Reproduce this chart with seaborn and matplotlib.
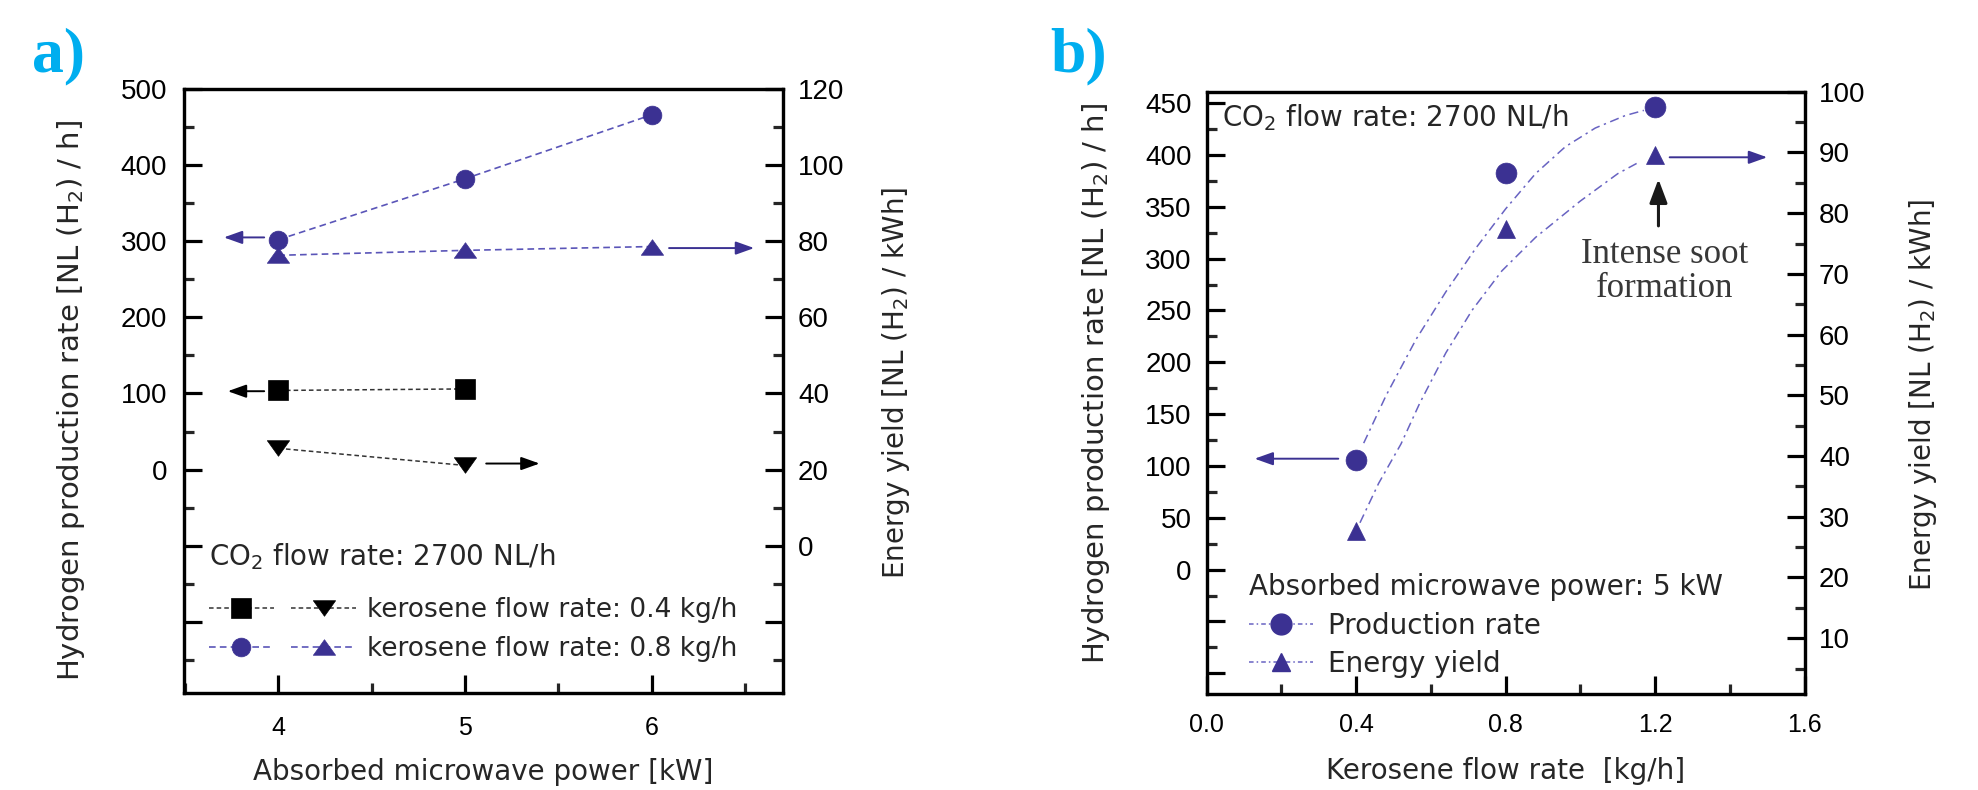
import numpy as np
import pandas as pd
import matplotlib
matplotlib.use("Agg")
import matplotlib.pyplot as plt
import seaborn as sns
from matplotlib.ticker import MultipleLocator, FuncFormatter
from matplotlib.lines import Line2D
from matplotlib.legend_handler import HandlerTuple
from matplotlib.path import Path

# ---------------- data: panel a ----------------
power_kw = [4, 5, 6]
rate_08 = [302, 382, 466]          # NL(H2)/h, kerosene 0.8 kg/h (left axis)
yield_08 = [76.3, 77.6, 78.6]      # NL(H2)/kWh, kerosene 0.8 kg/h (right axis)
power_kw_04 = [4, 5]
rate_04 = [104, 106]               # kerosene 0.4 kg/h (left axis)
yield_04 = [25.6, 21.1]            # kerosene 0.4 kg/h (right axis)

# ---------------- data: panel b ----------------
kero_flow = [0.4, 0.8, 1.2]
rate_b = [106, 383, 446]
yield_b = [27.7, 77.4, 89.6]
# trend curves
fit_rate_x = [0.42, 0.48, 0.56, 0.64, 0.72, 0.80, 0.88, 0.96, 1.04, 1.12, 1.17]
fit_rate_y = [122, 168, 222, 268, 310, 348, 382, 408, 426, 438, 443]
fit_yield_x = [0.41, 0.46, 0.52, 0.57, 0.64, 0.71, 0.79, 0.88, 1.00, 1.10, 1.16]
fit_yield_y = [29.0, 35.5, 42.0, 48.7, 57.0, 64.0, 70.5, 76.0, 82.0, 86.5, 88.5]

# ---------------- style ----------------
sns.set_style("ticks")
plt.rcParams["font.family"] = ["Liberation Sans", "DejaVu Sans"]
plt.rcParams["mathtext.default"] = "regular"

MARK = "#3b3192"
LINE_BLUE = "#5a55b8"
LINE_BLACK = "#333333"
CURVE = "#6863c2"
TXT = {"family": "DejaVu Sans", "size": 20}
LEG_A = {"family": "DejaVu Sans", "size": 19}
BIG = {"family": "DejaVu Sans", "size": 21}
TRI_UP = Path(np.array([[-1.0, -0.7], [1.0, -0.7], [0.0, 0.7], [-1.0, -0.7]]))
TRI_DN = Path(np.array([[-1.0, 0.7], [1.0, 0.7], [0.0, -0.7], [-1.0, 0.7]]))
SPW = 2.3

fig = plt.figure(figsize=(19.78, 7.90), dpi=100)
ax_a = fig.add_axes([0.0929, 0.1222, 0.3028, 0.7652])
ax_a2 = ax_a.twinx()
ax_b = fig.add_axes([0.6101, 0.1215, 0.3022, 0.7624])
ax_b2 = ax_b.twinx()


def last_line(ax):
    return ax.get_lines()[-1]


# ---------------- panel a plots ----------------
common = dict(estimator=None, sort=False, markeredgewidth=0.5)
sns.lineplot(x=power_kw_04, y=rate_04, ax=ax_a, color=LINE_BLACK, lw=1.1,
             linestyle=(0, (3, 2)), marker="s", markersize=14,
             markerfacecolor="black", markeredgecolor="black", **common)
l_sq = last_line(ax_a)
sns.lineplot(x=power_kw, y=rate_08, ax=ax_a, color=LINE_BLUE, lw=1.2,
             linestyle=(0, (4, 2.5)), marker="o", markersize=13.5,
             markerfacecolor=MARK, markeredgecolor=MARK, **common)
l_circ = last_line(ax_a)
sns.lineplot(x=power_kw_04, y=yield_04, ax=ax_a2, color=LINE_BLACK, lw=1.1,
             linestyle=(0, (3, 2)), marker=TRI_DN, markersize=16,
             markerfacecolor="black", markeredgecolor="black", **common)
l_dtri = last_line(ax_a2)
sns.lineplot(x=power_kw, y=yield_08, ax=ax_a2, color=LINE_BLUE, lw=1.2,
             linestyle=(0, (4, 2.5)), marker=TRI_UP, markersize=16,
             markerfacecolor=MARK, markeredgecolor=MARK, **common)
l_utri = last_line(ax_a2)

ax_a.set_xlim(3.493, 6.703)
ax_a.set_ylim(-294, 500)
ax_a2.set_ylim(-38.8, 120)

# arrows panel a
arr_blue = dict(arrowstyle="-|>,head_length=0.7,head_width=0.25", color=MARK, lw=1.4,
                shrinkA=0, shrinkB=0, mutation_scale=16)
arr_black = dict(arrowstyle="-|>,head_length=0.7,head_width=0.25", color="black", lw=1.4,
                 shrinkA=0, shrinkB=0, mutation_scale=16)
ax_a.annotate("", xy=(3.708, 305), xytext=(3.924, 305), arrowprops=arr_blue)
ax_a2.annotate("", xy=(6.55, 78.2), xytext=(6.094, 78.2), arrowprops=arr_blue)
ax_a.annotate("", xy=(3.729, 103), xytext=(3.924, 103), arrowprops=arr_black)
ax_a2.annotate("", xy=(5.40, 21.6), xytext=(5.114, 21.6), arrowprops=arr_black)

ax_a.text(0.0416, 0.212, "CO$_2$ flow rate: 2700 NL/h", transform=ax_a.transAxes,
          fontdict=TXT, va="baseline", ha="left")
ax_a.legend(handles=[(l_sq, l_dtri), (l_circ, l_utri)],
            labels=["kerosene flow rate: 0.4 kg/h", "kerosene flow rate: 0.8 kg/h"],
            handler_map={tuple: HandlerTuple(ndivide=None, pad=0.625)},
            loc="upper left", bbox_to_anchor=(0.0416, 0.160), borderaxespad=0,
            borderpad=0, frameon=False, handlelength=5.6, handletextpad=0.4,
            labelspacing=0.52, numpoints=1, prop=LEG_A)

# ---------------- panel b plots ----------------
sns.lineplot(x=fit_rate_x, y=fit_rate_y, ax=ax_b, color=CURVE, lw=1.1,
             linestyle=(0, (6, 3, 1.5, 3)), estimator=None, sort=False)
sns.lineplot(x=fit_yield_x, y=fit_yield_y, ax=ax_b2, color=CURVE, lw=1.1,
             linestyle=(0, (6, 3, 1.5, 3)), estimator=None, sort=False)
sns.lineplot(x=kero_flow, y=rate_b, ax=ax_b, linestyle="None", marker="o",
             markersize=15, markerfacecolor=MARK, markeredgecolor=MARK, **common)
sns.lineplot(x=kero_flow, y=yield_b, ax=ax_b2, linestyle="None", marker="^",
             markersize=13, markerfacecolor=MARK, markeredgecolor=MARK, **common)

ax_b.set_xlim(0, 1.6)
ax_b.set_ylim(-120, 461)
ax_b2.set_ylim(0.8, 100)

ax_b.annotate("", xy=(0.128, 107), xytext=(0.352, 107), arrowprops=arr_blue)
ax_b2.annotate("", xy=(1.50, 89.2), xytext=(1.239, 89.2), arrowprops=arr_blue)
ax_b2.annotate("", xy=(1.209, 85.6), xytext=(1.209, 77.9),
               arrowprops=dict(arrowstyle="-|>,head_length=0.8,head_width=0.3",
                               color="#1a1a1a", lw=2.2, shrinkA=0, shrinkB=0,
                               mutation_scale=18))
ax_b2.text(1.225, 70.4, "Intense soot\nformation", ha="center", va="center",
           fontfamily="Liberation Serif", fontsize=25, color="#383838", linespacing=1.05)

ax_b.text(0.025, 0.942, "CO$_2$ flow rate: 2700 NL/h", transform=ax_b.transAxes,
          fontdict=TXT, va="baseline", ha="left")
proxy_c = Line2D([], [], color=CURVE, lw=1.1, linestyle=(0, (3, 2, 1, 2)), marker="o",
                 markersize=15, markerfacecolor=MARK, markeredgecolor=MARK)
proxy_t = Line2D([], [], color=CURVE, lw=1.1, linestyle=(0, (3, 2, 1, 2)), marker="^",
                 markersize=13, markerfacecolor=MARK, markeredgecolor=MARK)
ax_b.legend(handles=[proxy_c, proxy_t], labels=["Production rate", "Energy yield"],
            title="Absorbed microwave power: 5 kW", alignment="left",
            title_fontproperties=TXT, prop=TXT, loc="upper left",
            bbox_to_anchor=(0.0703, 0.201), borderaxespad=0, borderpad=0,
            frameon=False, handlelength=2.3, handletextpad=0.56,
            labelspacing=0.38, numpoints=1)


# ---------------- axes styling ----------------
def nonneg(v, p):
    return f"{v:.0f}" if v >= -1e-9 else ""


for ax in (ax_a, ax_a2, ax_b, ax_b2):
    for s in ax.spines.values():
        s.set_linewidth(SPW)
        s.set_color("black")
    ax.tick_params(axis="both", which="major", direction="in", length=13, width=SPW,
                   colors="black", top=False)
    ax.tick_params(axis="both", which="minor", direction="in", length=7, width=SPW,
                   top=False)
    ax.set_xlabel("")
    ax.set_ylabel("")

ax_a.xaxis.set_major_locator(MultipleLocator(1))
ax_a.xaxis.set_minor_locator(MultipleLocator(0.5))
ax_a.yaxis.set_major_locator(MultipleLocator(100))
ax_a.yaxis.set_minor_locator(MultipleLocator(50))
ax_a.yaxis.set_major_formatter(FuncFormatter(nonneg))
ax_a2.yaxis.set_major_locator(MultipleLocator(20))
ax_a2.yaxis.set_minor_locator(MultipleLocator(10))
ax_a2.yaxis.set_major_formatter(FuncFormatter(nonneg))
ax_a.tick_params(axis="x", labelsize=18, pad=16)
ax_a.tick_params(axis="y", labelsize=20, pad=12, right=False, which="both")
ax_a2.tick_params(axis="y", labelsize=20, pad=11, left=False, which="both")

ax_b.xaxis.set_major_locator(MultipleLocator(0.4))
ax_b.xaxis.set_minor_locator(MultipleLocator(0.2))
ax_b.xaxis.set_major_formatter(FuncFormatter(lambda v, p: f"{v:.1f}"))
ax_b.yaxis.set_major_locator(MultipleLocator(50))
ax_b.yaxis.set_minor_locator(MultipleLocator(25))
ax_b.yaxis.set_major_formatter(FuncFormatter(nonneg))
ax_b2.yaxis.set_major_locator(MultipleLocator(10))
ax_b2.yaxis.set_minor_locator(MultipleLocator(5))
ax_b2.yaxis.set_major_formatter(FuncFormatter(nonneg))
ax_b.tick_params(axis="x", labelsize=18, pad=14)
ax_b.tick_params(axis="y", labelsize=20, pad=11, right=False, which="both")
ax_b2.tick_params(axis="y", labelsize=20, pad=10.5, left=False, which="both")

# labels
ax_a.set_ylabel("Hydrogen production rate [NL (H$_2$) / h]", fontdict=BIG, va="center")
ax_a.yaxis.set_label_coords(-0.188, 0.484)
ax_a2.set_ylabel("Energy yield [NL (H$_2$) / kWh]", fontdict=TXT, va="center")
ax_a2.yaxis.set_label_coords(1.190, 0.514)
ax_a.set_xlabel("Absorbed microwave power [kW]", fontdict=TXT, va="center")
ax_a.xaxis.set_label_coords(0.5, -0.130)

ax_b.set_ylabel("Hydrogen production rate [NL (H$_2$) / h]", fontdict=BIG, va="center")
ax_b.yaxis.set_label_coords(-0.185, 0.515)
ax_b2.set_ylabel("Energy yield [NL (H$_2$) / kWh]", fontdict=TXT, va="center")
ax_b2.yaxis.set_label_coords(1.198, 0.496)
ax_b.set_xlabel("Kerosene flow rate  [kg/h]", fontdict=TXT, va="center")
ax_b.xaxis.set_label_coords(0.5, -0.128)

# panel letters
fig.text(0.016, 0.909, "a)", fontfamily="Liberation Serif", fontweight="bold",
         fontsize=46, color="#00AEEF", va="baseline")
fig.text(0.531, 0.909, "b)", fontfamily="Liberation Serif", fontweight="bold",
         fontsize=46, color="#00AEEF", va="baseline")

fig.savefig("out.png", dpi=100, facecolor="white")
